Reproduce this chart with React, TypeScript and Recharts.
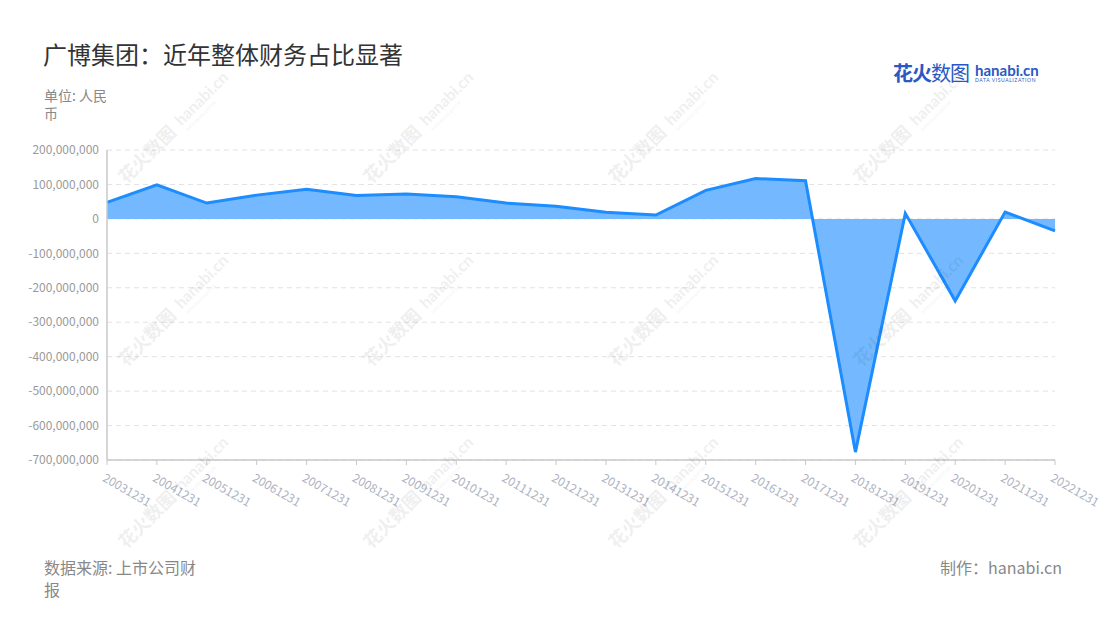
import { AreaChart, Area, XAxis, YAxis, CartesianGrid } from 'recharts';

const dates = [
  '20031231', '20041231', '20051231', '20061231', '20071231',
  '20081231', '20091231', '20101231', '20111231', '20121231',
  '20131231', '20141231', '20151231', '20161231', '20171231',
  '20181231', '20191231', '20201231', '20211231', '20221231',
];

// 单位: 人民币
const values = [
  48e6, 99e6, 46e6, 69e6, 86e6,
  68e6, 72e6, 64e6, 46e6, 37e6,
  19e6, 11e6, 83e6, 117e6, 111e6,
  -677e6, 16e6, -238e6, 20e6, -35e6,
];

const yTicks = [200e6, 100e6, 0, -100e6, -200e6, -300e6, -400e6, -500e6, -600e6, -700e6];

const data = dates.map((date, i) => ({ date, value: values[i] }));

const FONT = '"Noto Sans CJK SC", "Noto Sans", sans-serif';

// watermark grid (centres)
const wmCols = [180, 425, 670, 915];
const wmRows = [125, 308, 490];

interface TickProps {
  x?: number;
  y?: number;
  payload?: { value: string };
}

function DateTick({ x = 0, y = 0, payload }: TickProps) {
  return (
    <g transform={`translate(${x - 1},${y + 6}) rotate(30)`}>
      <text x={0} y={0} dy="0.71em" textAnchor="start" fill="#aeb3c2" fontSize={12} fontFamily={FONT}>
        {payload?.value}
      </text>
    </g>
  );
}

function Watermarks() {
  return (
    <svg width={1100} height={620} style={{ position: 'absolute', left: 0, top: 0, pointerEvents: 'none' }}>
      {wmRows.map((cy) =>
        wmCols.map((cx) => (
          <g key={`${cx}-${cy}`} transform={`translate(${cx},${cy}) rotate(-45)`} opacity={0.06}>
            <text x={-80} y={4} fontSize={18} fontWeight={700} fill="#000" fontFamily={FONT}>
              花火数图
            </text>
            <text x={0} y={2} fontSize={16} fontWeight={700} fill="#000" fontFamily="Lato, sans-serif">
              hanabi.cn
            </text>
            <text x={1} y={10} fontSize={4} fill="#000" fontFamily="Lato, sans-serif">
              DATA VISUALIZATION
            </text>
          </g>
        ))
      )}
    </svg>
  );
}

export default function App() {
  return (
    <div style={{ position: 'absolute', left: 0, top: 0, width: 1100, height: 620, background: '#fff', fontFamily: FONT, overflow: 'hidden' }}>
      <div style={{ position: 'absolute', left: 43, top: 38, fontSize: 24, color: '#333', lineHeight: '32px' }}>
        广博集团：近年整体财务占比显著
      </div>
      <div style={{ position: 'absolute', left: 44, top: 86, width: 70, fontSize: 14, color: '#888', lineHeight: '18px' }}>
        单位: 人民币
      </div>
      <div style={{ position: 'absolute', left: 893, top: 58, display: 'flex', alignItems: 'center', whiteSpace: 'nowrap' }}>
        <span style={{ fontSize: 20, fontWeight: 700, color: '#2a58c4', letterSpacing: -1 }}>花火</span>
        <span style={{ fontSize: 20, fontWeight: 400, color: '#2a58c4', letterSpacing: -1 }}>数图</span>
        <span style={{ marginLeft: 6, display: 'flex', flexDirection: 'column', lineHeight: 1 }}>
          <span style={{ fontSize: 15, fontWeight: 700, color: '#2a58c4', fontFamily: 'Lato, sans-serif' }}>hanabi.cn</span>
          <span style={{ fontSize: 5, color: '#2a58c4', fontFamily: 'Lato, sans-serif', letterSpacing: 0.6 }}>DATA VISUALIZATION</span>
        </span>
      </div>

      <div style={{ position: 'absolute', left: 0, top: 0 }}>
        <AreaChart
          width={1100}
          height={620}
          data={data}
          margin={{ top: 150, right: 45, bottom: 120, left: 37 }}
        >
          <CartesianGrid vertical={false} stroke="#e2e2e2" strokeDasharray="5 4" />
          <XAxis
            dataKey="date"
            interval={0}
            height={40}
            tick={<DateTick />}
            tickSize={5}
            tickLine={{ stroke: '#c8c8c8' }}
            axisLine={{ stroke: '#c8c8c8', strokeWidth: 1.5 }}
          />
          <YAxis
            width={70}
            domain={[-700e6, 200e6]}
            ticks={yTicks}
            interval={0}
            tickLine={false}
            axisLine={{ stroke: '#c8c8c8', strokeWidth: 1.5 }}
            tick={{ fill: '#9a9a9a', fontSize: 12, fontFamily: FONT }}
            tickFormatter={(v: number) => v.toLocaleString('en-US')}
          />
          <Area
            type="linear"
            dataKey="value"
            stroke="#1c8cff"
            strokeWidth={3}
            fill="#74b9ff"
            fillOpacity={1}
            dot={false}
            activeDot={false}
            isAnimationActive={false}
          />
        </AreaChart>
      </div>

      <Watermarks />

      <div style={{ position: 'absolute', left: 44, top: 556, width: 160, fontSize: 16, color: '#888', lineHeight: '22px' }}>
        数据来源: 上市公司财报
      </div>
      <div style={{ position: 'absolute', right: 38, top: 556, fontSize: 16, color: '#888', lineHeight: '22px' }}>
        制作：hanabi.cn
      </div>
    </div>
  );
}
